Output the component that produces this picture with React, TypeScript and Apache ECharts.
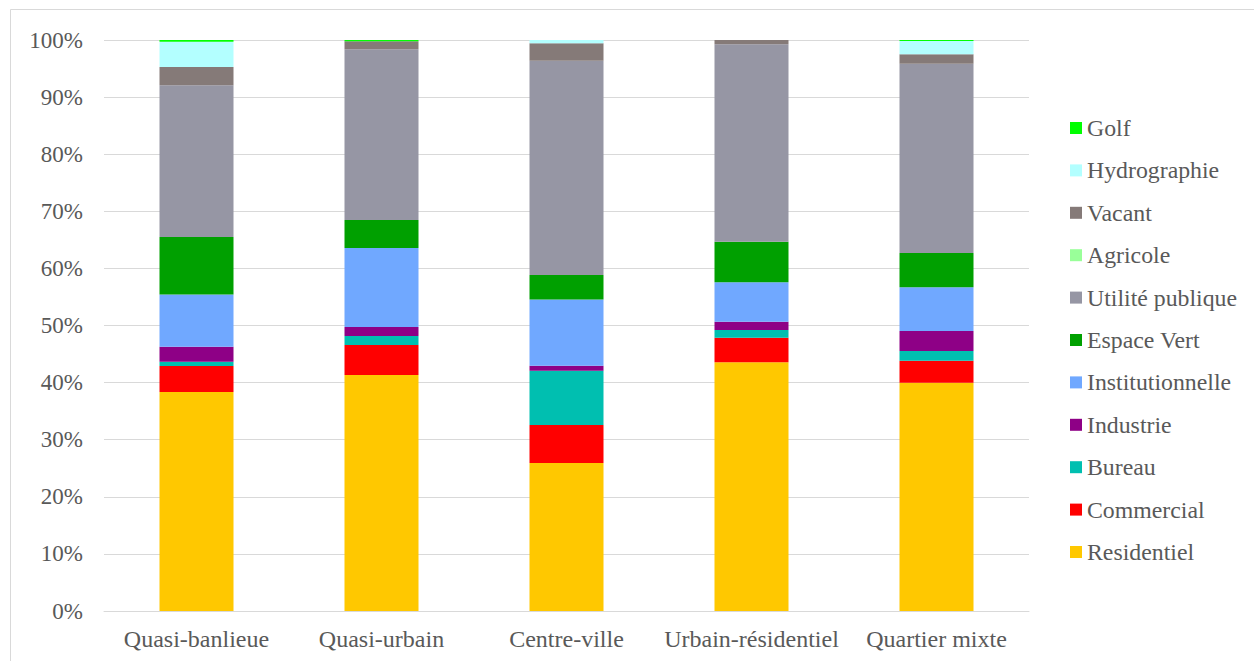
import React, { useEffect, useRef } from "react";
import * as echarts from "echarts";

const categories = ["Quasi-banlieue", "Quasi-urbain", "Centre-ville", "Urbain-résidentiel", "Quartier mixte"];

const residentiel = [38.35, 41.33, 25.9, 43.55, 39.98];
const commercial = [4.55, 5.25, 6.67, 4.31, 3.85];
const bureau = [0.77, 1.58, 9.5, 1.34, 1.7];
const industrie = [2.6, 1.58, 0.88, 1.47, 3.5];
const institutionnelle = [9.17, 13.83, 11.6, 6.9, 7.66];
const espaceVert = [10.04, 4.9, 4.3, 7.1, 6.0];
const utilitePublique = [26.6, 29.9, 37.5, 34.6, 33.15];
const agricole = [0, 0, 0, 0, 0];
const vacant = [3.2, 1.4, 3.1, 0.73, 1.65];
const hydrographie = [4.4, 0, 0.55, 0, 2.35];
const golf = [0.32, 0.23, 0, 0, 0.16];

const yTicks = [0, 10, 20, 30, 40, 50, 60, 70, 80, 90, 100];

const seriesDefs = [
  { name: "Residentiel", data: residentiel, color: "#ffc800" },
  { name: "Commercial", data: commercial, color: "#ff0000" },
  { name: "Bureau", data: bureau, color: "#00bfb0" },
  { name: "Industrie", data: industrie, color: "#8e0086" },
  { name: "Institutionnelle", data: institutionnelle, color: "#70a8ff" },
  { name: "Espace Vert", data: espaceVert, color: "#00a000" },
  { name: "Utilité publique", data: utilitePublique, color: "#9696a4" },
  { name: "Agricole", data: agricole, color: "#99ff99" },
  { name: "Vacant", data: vacant, color: "#857a78" },
  { name: "Hydrographie", data: hydrographie, color: "#b3ffff" },
  { name: "Golf", data: golf, color: "#00ff00" },
];

const FONT = "'Liberation Serif', 'Times New Roman', serif";
const TXT = "#595959";

export default function App() {
  const ref = useRef<HTMLDivElement>(null);
  useEffect(() => {
    if (!ref.current) return;
    const chart = echarts.init(ref.current, null, { renderer: "svg" });
    chart.setOption({
      animation: false,
      backgroundColor: "#ffffff",
      graphic: [
        {
          type: "rect",
          shape: { x: 10.5, y: 9.5, width: 1400, height: 800 },
          style: { fill: "none", stroke: "#d9d9d9", lineWidth: 1 },
          silent: true,
        },
      ],
      grid: { left: 104, top: 40, width: 925, height: 571, containLabel: false },
      legend: {
        orient: "vertical",
        left: 1065,
        top: 111,
        itemWidth: 12,
        itemHeight: 12,
        itemGap: 18.4,
        icon: "rect",
        data: seriesDefs.map((s) => s.name).reverse(),
        textStyle: { fontFamily: FONT, fontSize: 23.8, color: TXT, lineHeight: 24 },
      },
      xAxis: {
        type: "category",
        data: categories,
        axisTick: { show: false },
        axisLine: { lineStyle: { color: "#d9d9d9", width: 1 } },
        axisLabel: { fontFamily: FONT, fontSize: 24, color: TXT, margin: 16, interval: 0 },
      },
      yAxis: {
        type: "value",
        min: yTicks[0],
        max: yTicks[yTicks.length - 1],
        interval: 10,
        axisLine: { show: false },
        axisTick: { show: false },
        splitLine: { lineStyle: { color: "#d9d9d9", width: 1 } },
        axisLabel: { fontFamily: FONT, fontSize: 23, color: TXT, margin: 21, formatter: "{value}%" },
      },
      series: seriesDefs.map((s) => ({
        name: s.name,
        type: "bar",
        stack: "total",
        data: s.data,
        barWidth: 74,
        itemStyle: { color: s.color },
      })),
    });
    return () => chart.dispose();
  }, []);
  return (
    <div
      ref={ref}
      style={{ position: "absolute", left: 0, top: 0, width: 1254, height: 661 }}
    />
  );
}
